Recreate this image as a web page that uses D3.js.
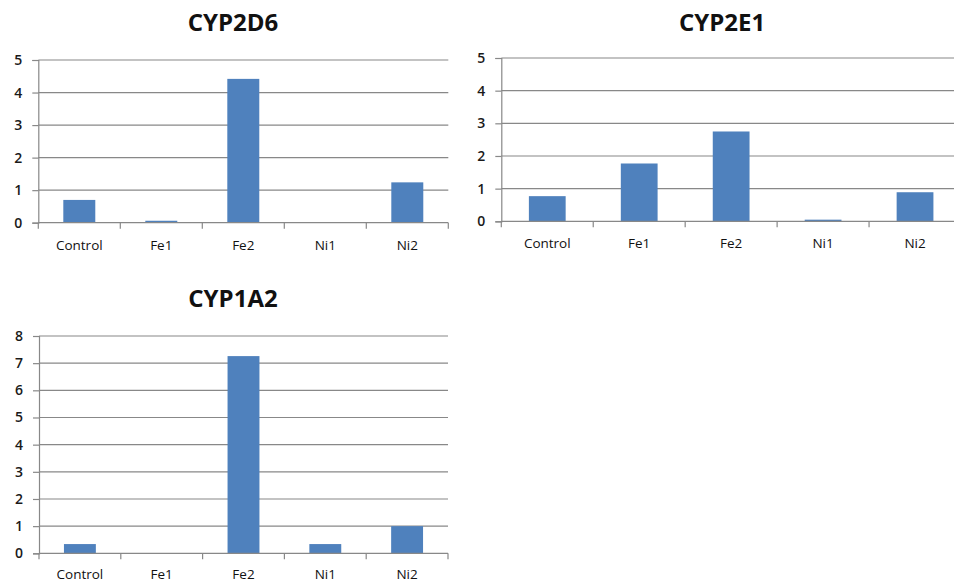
<!DOCTYPE html>
<html>
<head>
<meta charset="utf-8">
<script src="https://cdn.jsdelivr.net/npm/d3@7"></script>
<style>
  html, body { margin: 0; padding: 0; background: #fff; }
  svg { display: block; font-family: "Open Sans", "Liberation Sans", sans-serif; }
</style>
</head>
<body>
<svg id="chart" width="954" height="585"></svg>
<script>
// Treatment groups shared by all three panels
const categories = ["Control", "Fe1", "Fe2", "Ni1", "Ni2"];

// Relative expression per gene
const cyp2d6 = [0.70, 0.06, 4.42, 0.00, 1.24];
const cyp2e1 = [0.77, 1.77, 2.75, 0.05, 0.89];
const cyp1a2 = [0.34, 0.00, 7.26, 0.34, 1.00];

// Y-axis ticks per panel
const ticks2d6 = [0, 1, 2, 3, 4, 5];
const ticks2e1 = [0, 1, 2, 3, 4, 5];
const ticks1a2 = [0, 1, 2, 3, 4, 5, 6, 7, 8];

const svg = d3.select("#chart");
const barColor = "#4f81bd";
const gridColor = "#888888";

function panel(title, values, ticks, box) {
  const g = svg.append("g");
  const x = d3.scaleBand().domain(categories).range([box.x0, box.x1]).paddingInner(0).paddingOuter(0);
  const y = d3.scaleLinear().domain([0, d3.max(ticks)]).range([box.y0, box.y1]);
  const bw = x.bandwidth() * box.barFrac;

  // title
  g.append("text")
    .attr("x", box.tx).attr("y", box.ty)
    .attr("text-anchor", "middle")
    .attr("font-size", 24).attr("font-weight", 700)
    .attr("fill", "#111")
    .text(title);

  // horizontal gridlines (above zero)
  g.selectAll("line.grid").data(ticks.filter(t => t > 0)).join("line")
    .attr("x1", box.x0).attr("x2", box.x1)
    .attr("y1", d => y(d)).attr("y2", d => y(d))
    .attr("stroke", gridColor).attr("stroke-width", 1.2);

  // left axis with outward ticks
  const yAxis = g.append("g").attr("transform", `translate(${box.x0},0)`)
    .call(d3.axisLeft(y).tickValues(ticks).tickSize(6).tickPadding(10).tickFormat(d3.format("d")));
  yAxis.select(".domain").attr("stroke", gridColor).attr("stroke-width", 1.2);
  yAxis.selectAll(".tick line").attr("stroke", gridColor).attr("stroke-width", 1.2);
  yAxis.selectAll(".tick text").attr("font-size", 14).attr("font-weight", 600).attr("fill", "#1a1a1a")
    .attr("font-family", "'Open Sans', sans-serif");

  // bars
  g.selectAll("rect.bar").data(values).join("rect")
    .attr("x", (d, i) => x(categories[i]) + (x.bandwidth() - bw) / 2)
    .attr("width", bw)
    .attr("y", d => y(d))
    .attr("height", d => y(0) - y(d))
    .attr("fill", barColor);

  // category axis along zero
  const xAxis = g.append("g").attr("transform", `translate(0,${y(0)})`);
  xAxis.append("line")
    .attr("x1", box.x0).attr("x2", box.x1)
    .attr("stroke", gridColor).attr("stroke-width", 1.2);
  const bounds = categories.map(c => x(c)).concat([x(categories[categories.length - 1]) + x.bandwidth()]);
  xAxis.selectAll("line.tk").data(bounds).join("line")
    .attr("x1", d => d).attr("x2", d => d)
    .attr("y1", 0).attr("y2", 6)
    .attr("stroke", gridColor).attr("stroke-width", 1.2);
  xAxis.selectAll("text").data(categories).join("text")
    .attr("x", d => x(d) + x.bandwidth() / 2)
    .attr("y", box.ly)
    .attr("text-anchor", "middle")
    .attr("font-size", 13.5).attr("fill", "#111")
    .text(d => d);
}

panel("CYP2D6", cyp2d6, ticks2d6,
  { x0: 38.3, x1: 448.3, y0: 222.7, y1: 60, barFrac: 0.39, tx: 233, ty: 31, ly: 27 });
panel("CYP2E1", cyp2e1, ticks2e1,
  { x0: 501.3, x1: 961, y0: 221.3, y1: 58, barFrac: 0.40, tx: 722, ty: 31, ly: 27 });
panel("CYP1A2", cyp1a2, ticks1a2,
  { x0: 39, x1: 448, y0: 553.3, y1: 336, barFrac: 0.39, tx: 233, ty: 307, ly: 26 });
</script>
</body>
</html>
